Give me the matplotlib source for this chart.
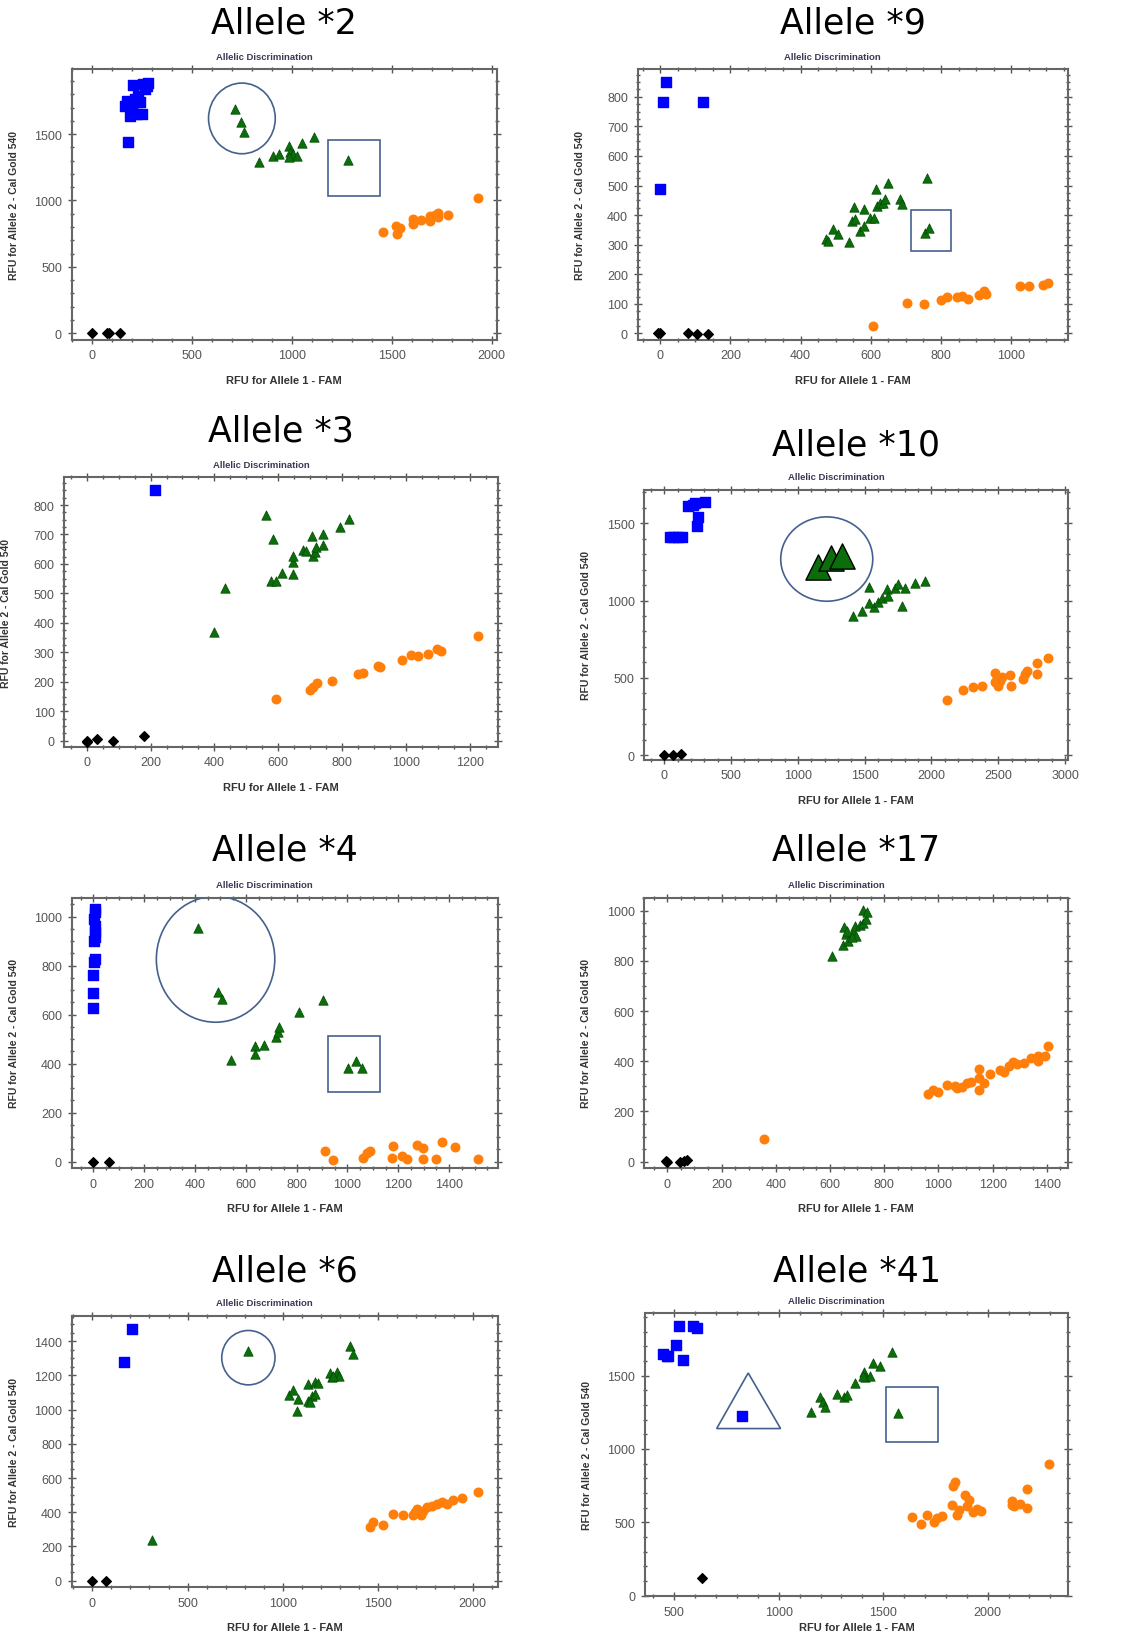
import matplotlib.pyplot as plt
from matplotlib.patches import Ellipse, Rectangle, Polygon
from matplotlib.ticker import MultipleLocator

W, H = 1124, 1633

# values
# each point is (RFU Allele 1 - FAM, RFU Allele 2 - Cal Gold 540)

# Allele *2
a2_blue = [(205, 1868), (177, 1442), (164, 1713), (189, 1638), (214, 1763), (239, 1738),
           (247, 1650), (230, 1788), (255, 1876), (272, 1863), (280, 1888), (264, 1838),
           (197, 1688), (222, 1650), (172, 1750), (200, 1720)]
a2_green = [(714, 1688), (743, 1588), (761, 1512), (833, 1287), (906, 1337), (936, 1349),
            (986, 1412), (990, 1362), (1006, 1349), (1023, 1337), (1048, 1432), (1112, 1475),
            (1282, 1307), (985, 1330)]
a2_orange = [(1454, 765), (1521, 810), (1527, 747), (1540, 790), (1607, 860), (1607, 823),
             (1644, 855), (1691, 885), (1691, 848), (1732, 905), (1732, 873), (1782, 890),
             (1933, 1016), (1716, 890)]
a2_black = [(0, 0), (72, 5), (85, 5), (138, 2)]

# Allele *9
a9_blue = [(17, 851), (7, 784), (122, 784), (0, 488)]
a9_green = [(472, 319), (479, 313), (492, 353), (508, 336), (538, 308), (546, 381), (553, 426),
            (555, 387), (568, 347), (580, 364), (580, 420), (598, 392), (608, 392), (615, 490),
            (617, 431), (625, 442), (636, 440), (641, 454), (650, 510), (682, 456), (689, 437),
            (760, 527), (754, 341), (765, 358)]
a9_orange = [(605, 24), (703, 103), (752, 101), (801, 114), (817, 124), (847, 124), (860, 127),
             (878, 118), (907, 130), (923, 144), (929, 133), (1026, 159), (1052, 161),
             (1092, 163), (1106, 172)]
a9_black = [(-5, 1), (0, 0), (78, 1), (104, -2), (136, -2)]

# Allele *3
a3_blue = [(214, 852)]
a3_green = [(399, 368), (433, 517), (560, 767), (584, 685), (576, 543), (593, 543), (613, 571),
            (645, 566), (647, 605), (647, 628), (678, 648), (686, 645), (704, 696), (710, 628),
            (715, 639), (718, 656), (739, 702), (741, 664), (793, 726), (821, 752)]
a3_orange = [(593, 141), (699, 173), (710, 184), (722, 196), (767, 204), (851, 226), (864, 230),
             (913, 255), (918, 249), (986, 275), (1017, 291), (1038, 289), (1068, 294),
             (1096, 313), (1111, 303), (1224, 354)]
a3_black = [(0, 0), (2, -3), (31, 6), (83, -2), (179, 15)]

# Allele *10
a10_blue = [(42, 1413), (67, 1413), (105, 1413), (130, 1413), (180, 1614), (217, 1618),
            (230, 1629), (305, 1636), (255, 1539), (242, 1480)]
a10_green_big = [(1148, 1215), (1248, 1273), (1328, 1286)]
a10_green = [(1415, 898), (1483, 934), (1535, 1085), (1535, 984), (1570, 956), (1602, 988),
             (1627, 1014), (1665, 1075), (1677, 1032), (1727, 1079), (1752, 1107), (1777, 967),
             (1802, 1079), (1877, 1114), (1952, 1129)]
a10_orange = [(2114, 356), (2239, 423), (2314, 438), (2376, 445), (2476, 531), (2476, 470),
              (2501, 449), (2513, 481), (2526, 503), (2588, 518), (2593, 449), (2688, 492),
              (2701, 524), (2713, 546), (2788, 596), (2788, 524), (2876, 626), (2488, 503)]
a10_black = [(0, 0), (67, 0), (122, 4)]

# Allele *4
a4_blue = [(5, 1031), (8, 1018), (3, 990), (8, 963), (5, 936), (8, 916), (3, 902), (5, 827),
           (3, 814), (0, 762), (0, 688), (0, 626)]
a4_green = [(413, 952), (492, 691), (508, 664), (540, 416), (636, 473), (636, 439), (673, 476),
            (719, 507), (728, 528), (732, 548), (809, 612), (902, 661), (1003, 381),
            (1032, 410), (1056, 381)]
a4_orange = [(911, 45), (942, 8), (1062, 14), (1075, 34), (1089, 45), (1174, 14), (1178, 63),
             (1213, 22), (1236, 11), (1272, 68), (1296, 54), (1296, 11), (1348, 11),
             (1370, 79), (1423, 61), (1515, 11)]
a4_black = [(0, 0), (63, -3)]

# Allele *17
a17_green = [(609, 821), (647, 863), (652, 934), (660, 907), (668, 880), (686, 914), (693, 938),
             (697, 900), (711, 943), (723, 951), (733, 967), (721, 1004), (738, 996),
             (662, 920), (680, 894)]
a17_orange = [(358, 90), (960, 270), (979, 287), (997, 279), (1033, 305), (1061, 303),
              (1070, 292), (1086, 296), (1107, 313), (1119, 319), (1148, 369), (1148, 332),
              (1148, 287), (1167, 313), (1189, 349), (1226, 367), (1243, 356), (1259, 380),
              (1275, 398), (1289, 389), (1317, 393), (1341, 412), (1369, 422), (1366, 402),
              (1394, 420), (1406, 459)]
a17_black = [(-5, 4), (0, 0), (47, 0), (62, 4), (71, 8)]

# Allele *6
a6_blue = [(210, 1472), (167, 1281)]
a6_green = [(312, 240), (820, 1342), (1031, 1088), (1057, 1117), (1078, 994), (1083, 1063),
            (1131, 1150), (1136, 1053), (1153, 1082), (1171, 1092), (1171, 1160), (1188, 1156),
            (1250, 1215), (1259, 1189), (1285, 1219), (1294, 1199), (1355, 1371), (1372, 1326),
            (1267, 1199), (1145, 1043)]
a6_orange = [(1460, 312), (1474, 341), (1527, 326), (1579, 390), (1632, 384), (1684, 384),
             (1705, 419), (1726, 384), (1740, 409), (1758, 429), (1784, 439), (1811, 448),
             (1837, 458), (1863, 448), (1898, 474), (1942, 482), (2030, 517), (1714, 404),
             (1696, 400)]
a6_black = [(0, 0), (70, -4)]

# Allele *41
a41_blue = [(447, 1648), (463, 1636), (471, 1631), (508, 1709), (524, 1836), (543, 1609),
            (588, 1841), (607, 1823), (822, 1227)]
a41_green = [(1153, 1255), (1197, 1352), (1213, 1318), (1221, 1284), (1277, 1373), (1312, 1352),
             (1325, 1368), (1365, 1450), (1408, 1527), (1413, 1489), (1437, 1495), (1450, 1586),
             (1485, 1564), (1544, 1664), (1569, 1243), (1405, 1500)]
a41_orange = [(1636, 534), (1681, 489), (1708, 550), (1743, 500), (1759, 527), (1780, 545),
              (1828, 616), (1836, 750), (1844, 772), (1852, 548), (1865, 582), (1892, 686),
              (1903, 614), (1913, 655), (1931, 568), (1951, 591), (1967, 580), (2116, 648),
              (2124, 609), (2156, 625), (2188, 727), (2188, 600), (2292, 898), (2116, 620)]
a41_black = [(634, 118)]

# highlight shapes drawn on the original plots
a2_circle = (749, 1618, 334, 532)        # centre x, centre y, width, height
a2_box = (1178, 1036, 262, 421)          # x0, y0, width, height
a9_box = (715, 278, 114, 139)
a10_circle = (1216, 1269, 689, 546)
a4_circle = (481, 826, 466, 514)
a4_box = (922, 283, 206, 229)
a6_circle = (820, 1304, 280, 318)
a41_tri = [(854, 1518), (703, 1139), (1009, 1139)]
a41_box = (1512, 1045, 249, 380)

BLUE = '#0000ff'
GREEN = '#0b6e0b'
ORANGE = '#ff7f0a'
SHAPE = '#44618e'

panels = [
    dict(title='Allele *2', box=(71.7, 497, 70, 340.7), title_y=23, sub_y=57,
         xlim=(-103, 2026), ylim=(-48, 1990), xt=(500, 100), yt=(500, 100),
         blue=a2_blue, green=a2_green, orange=a2_orange, black=a2_black,
         circles=[a2_circle], boxes=[a2_box]),
    dict(title='Allele *9', box=(637.7, 1067.7, 70, 340.7), title_y=23, sub_y=57,
         xlim=(-64, 1161), ylim=(-21, 894), xt=(200, 50), yt=(100, 25),
         blue=a9_blue, green=a9_green, orange=a9_orange, black=a9_black,
         boxes=[a9_box]),
    dict(title='Allele *3', box=(64.3, 497.7, 478.3, 747.7), title_y=432, sub_y=465,
         xlim=(-70, 1287), ylim=(-20, 894), xt=(200, 50), yt=(100, 25),
         blue=a3_blue, green=a3_green, orange=a3_orange, black=a3_black),
    dict(title='Allele *10', box=(644.3, 1067.7, 490.7, 760.7), title_y=445, sub_y=478,
         xlim=(-150, 3020), ylim=(-30, 1718), xt=(500, 100), yt=(500, 100),
         blue=a10_blue, green=a10_green, orange=a10_orange, black=a10_black,
         big=a10_green_big, circles=[a10_circle]),
    dict(title='Allele *4', box=(71.7, 497.7, 899, 1169), title_y=851, sub_y=886,
         xlim=(-85, 1591), ylim=(-26, 1076), xt=(200, 50), yt=(200, 50),
         blue=a4_blue, green=a4_green, orange=a4_orange, black=a4_black,
         circles=[a4_circle], boxes=[a4_box]),
    dict(title='Allele *17', box=(644.3, 1067.7, 899, 1169), title_y=851, sub_y=886,
         xlim=(-85, 1477), ylim=(-25, 1050), xt=(200, 50), yt=(200, 50),
         green=a17_green, orange=a17_orange, black=a17_black),
    dict(title='Allele *6', box=(71.7, 497.7, 1317.3, 1588.3), title_y=1272, sub_y=1304,
         xlim=(-109, 2131), ylim=(-39, 1546), xt=(500, 100), yt=(200, 50),
         blue=a6_blue, green=a6_green, orange=a6_orange, black=a6_black,
         circles=[a6_circle]),
    dict(title='Allele *41', box=(645, 1068.3, 1314.3, 1597.3), title_y=1272, sub_y=1302,
         xlim=(360, 2386), ylim=(-5, 1925), xt=(500, 100), yt=(500, 100),
         blue=a41_blue, green=a41_green, orange=a41_orange, black=a41_black,
         tris=[a41_tri], boxes=[a41_box], xlab_off=26),
]

fig = plt.figure(figsize=(W / 100, H / 100), dpi=100)
fig.patch.set_facecolor('white')


def xs(pts):
    return [p[0] for p in pts]


def ys(pts):
    return [p[1] for p in pts]


for p in panels:
    l, r, t, b = p['box']
    ax = fig.add_axes([l / W, 1 - b / H, (r - l) / W, (b - t) / H])
    ax.set_xlim(*p['xlim'])
    ax.set_ylim(*p['ylim'])

    if 'black' in p:
        ax.scatter(xs(p['black']), ys(p['black']), marker='D', s=24, c='black', zorder=3)
    if 'blue' in p:
        ax.scatter(xs(p['blue']), ys(p['blue']), marker='s', s=44, c=BLUE, zorder=3)
    if 'green' in p:
        ax.scatter(xs(p['green']), ys(p['green']), marker='^', s=46, c=GREEN,
                   edgecolors='#004a00', linewidths=0.5, zorder=3)
    if 'big' in p:
        ax.scatter(xs(p['big']), ys(p['big']), marker='^', s=330, c=GREEN,
                   edgecolors='black', linewidths=1.0, zorder=4)
    if 'orange' in p:
        ax.scatter(xs(p['orange']), ys(p['orange']), marker='o', s=38, c=ORANGE, zorder=3)

    for cx, cy, w, h in p.get('circles', []):
        ax.add_patch(Ellipse((cx, cy), w, h, fill=False, ec=SHAPE, lw=1.2, zorder=5))
    for x0, y0, w, h in p.get('boxes', []):
        ax.add_patch(Rectangle((x0, y0), w, h, fill=False, ec=SHAPE, lw=1.2, zorder=5))
    for tri in p.get('tris', []):
        ax.add_patch(Polygon(tri, closed=True, fill=False, ec=SHAPE, lw=1.2, zorder=5))

    ax.xaxis.set_major_locator(MultipleLocator(p['xt'][0]))
    ax.xaxis.set_minor_locator(MultipleLocator(p['xt'][1]))
    ax.yaxis.set_major_locator(MultipleLocator(p['yt'][0]))
    ax.yaxis.set_minor_locator(MultipleLocator(p['yt'][1]))
    ax.tick_params(which='both', direction='inout', top=True, right=True,
                   color='#555555', width=1.0)
    ax.tick_params(which='major', length=6, labelsize=9, labelcolor='#555555', pad=4)
    ax.tick_params(which='minor', length=3.5)
    for sp in ax.spines.values():
        sp.set_color('#666666')
        sp.set_linewidth(1.5)

    ax.set_xlabel('RFU for Allele 1 - FAM', fontsize=8, fontweight='bold',
                  color='#333333', family='Liberation Sans')
    ax.set_ylabel('RFU for Allele 2 - Cal Gold 540', fontsize=7.5, fontweight='bold',
                  color='#333333', family='Liberation Sans')
    ax.xaxis.set_label_coords(0.5, -p.get('xlab_off', 35) / (b - t))
    ax.yaxis.set_label_coords(-53 / (r - l), 0.5)
    for lab in ax.get_xticklabels() + ax.get_yticklabels():
        lab.set_family('Liberation Sans')

    cx = (l + r) / 2
    fig.text(cx / W, 1 - p['title_y'] / H, p['title'], fontsize=25, ha='center',
             va='center', family='DejaVu Sans', color='black')
    fig.text((cx - 20) / W, 1 - p['sub_y'] / H, 'Allelic Discrimination', fontsize=6.8,
             fontweight='bold', ha='center', va='center', color='#3a3a55',
             family='Liberation Sans')

fig.savefig('out.png', dpi=100, facecolor='white')
